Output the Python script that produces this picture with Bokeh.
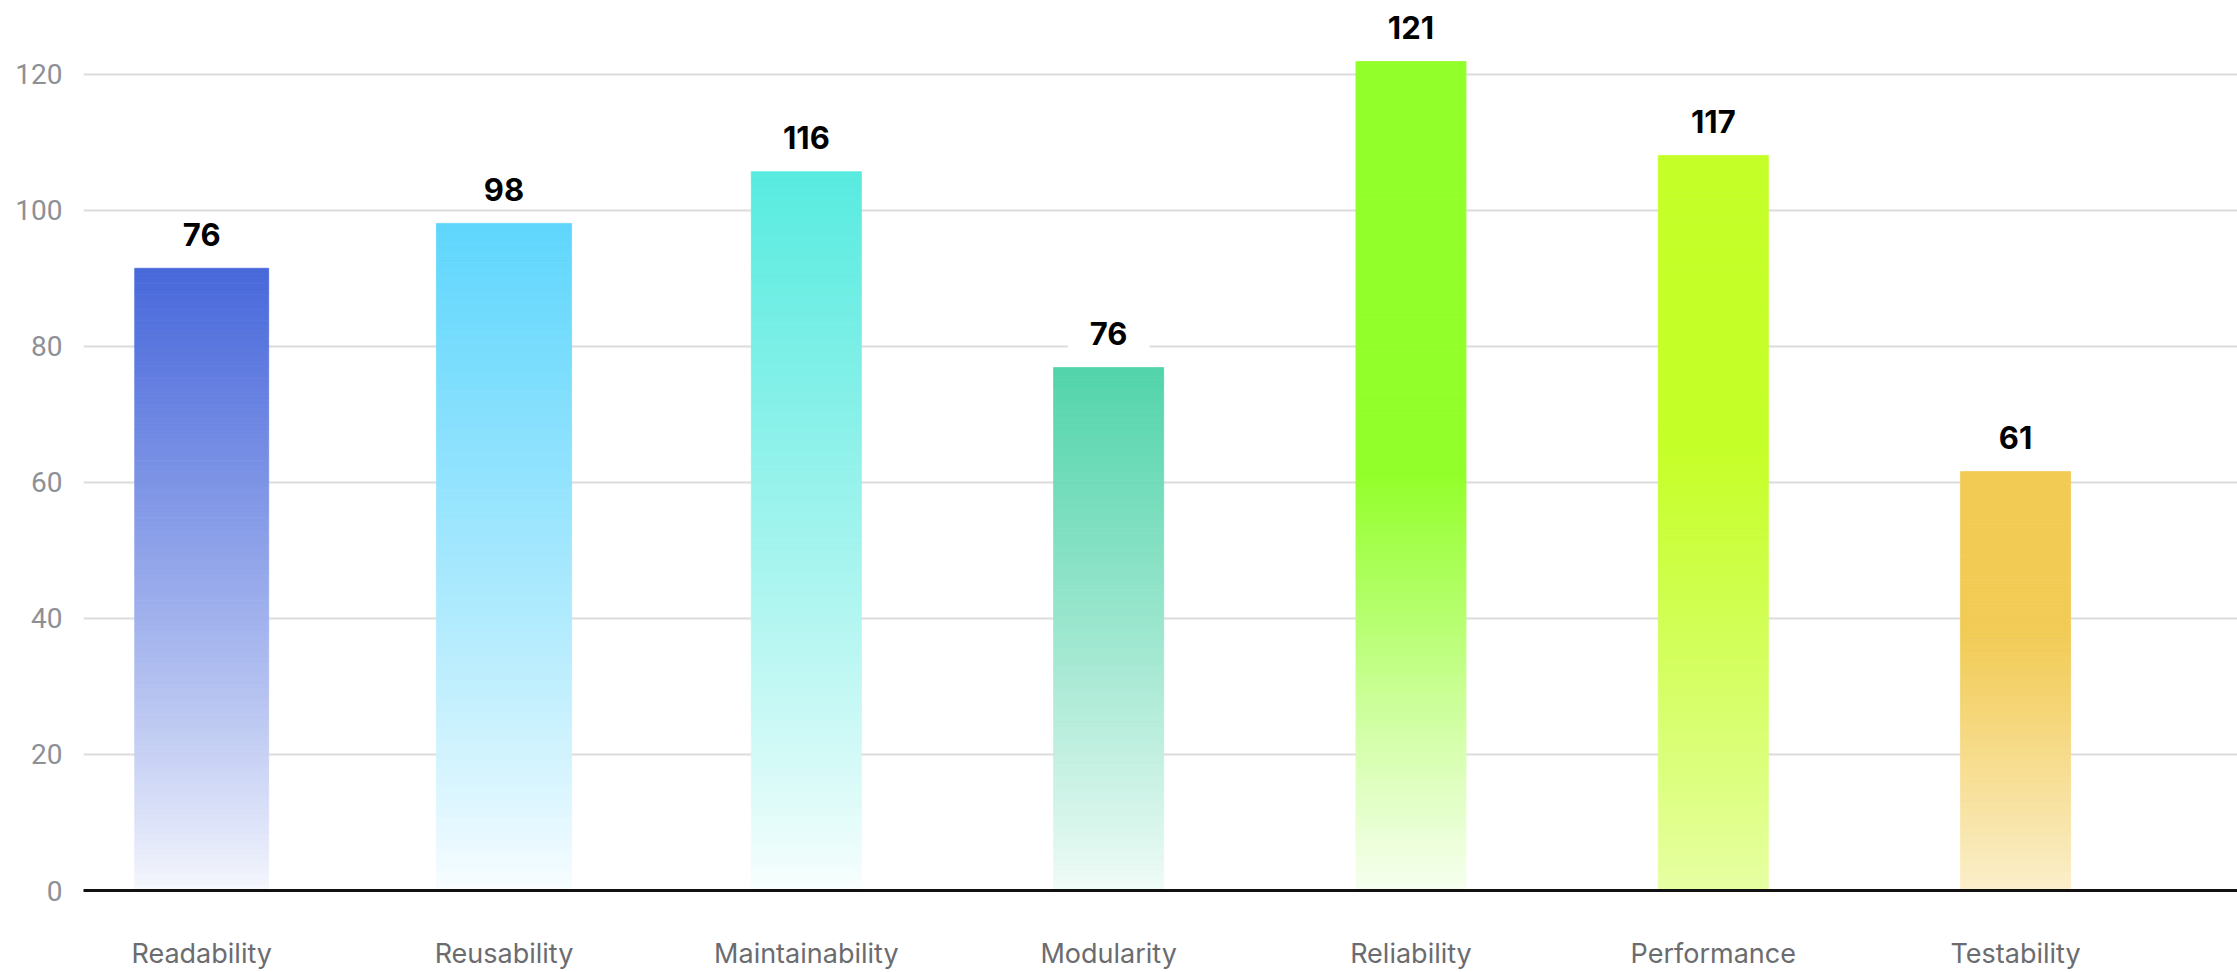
import numpy as np
from bokeh.plotting import figure
from bokeh.models import Range1d, FixedTicker, ColumnDataSource
from bokeh.core.properties import value
from bokeh.embed import file_html
from bokeh.resources import INLINE

# ---------------- data ----------------
categories = ["Readability", "Reusability", "Maintainability", "Modularity",
              "Reliability", "Performance", "Testability"]
bar_values = [91.5, 98.1, 105.7, 76.9, 121.9, 108.1, 61.6]
label_values = [76, 98, 116, 76, 121, 117, 61]
y_ticks = [0, 20, 40, 60, 80, 100, 120]

# ---------------- style ----------------
colors = ["#4868DB", "#5FD6FD", "#58EBE0", "#52D4AA", "#93FF2A", "#C5FF28", "#F2CB55"]
# gradient: (solid fraction from top, bottom alpha, curve power)
grad = [(1.0, 0.04, 0.85), (1.0, 0.03, 0.84), (1.0, 0.03, 0.85), (1.0, 0.08, 0.9),
        (0.5, 0.08, 1.05), (0.6, 0.42, 0.88), (0.62, 0.30, 0.93)]
bar_widths = [0.443, 0.447, 0.364, 0.364, 0.364, 0.364, 0.364]
N_SLICES = 120


def hex_to_rgb(h):
    h = h.lstrip("#")
    return tuple(int(h[i:i + 2], 16) for i in (0, 2, 4))


def blend(rgb, a):
    r, g, b = (int(round(255 * (1 - a) + c * a)) for c in rgb)
    return "#%02x%02x%02x" % (r, g, b)


idx = list(range(len(categories)))

p = figure(width=2237, height=972,
           x_range=Range1d(-0.391, 6.734), y_range=Range1d(0, 130.88),
           output_backend="svg", toolbar_location=None,
           min_border_left=83, min_border_right=0, min_border_top=0, min_border_bottom=82,
           background_fill_color="white", border_fill_color="white",
           outline_line_color=None)

# gradient bars built from slices of each bar's value
L, R, B, T, C = [], [], [], [], []
for i, v in enumerate(bar_values):
    rgb = hex_to_rgb(colors[i])
    s, a0, pw = grad[i]
    w = bar_widths[i]
    for k in range(N_SLICES):
        f = (k + 0.5) / N_SLICES
        if f >= 1 - (1 - s) and f >= s:
            a = 1.0
        else:
            a = a0 + (1 - a0) * (f / s) ** pw
        a = min(1.0, a)
        L.append(idx[i] - w / 2)
        R.append(idx[i] + w / 2)
        B.append(v * k / N_SLICES)
        T.append(v * (k + 1) / N_SLICES)
        C.append(blend(rgb, a))

src = ColumnDataSource(dict(left=L, right=R, bottom=B, top=T, color=C))
p.quad(left="left", right="right", bottom="bottom", top="top", source=src,
       fill_color="color", line_color="color", line_width=0.8)

# value labels
lsrc = ColumnDataSource(dict(x=idx, y=bar_values, text=[str(v) for v in label_values]))
p.text(x="x", y="y", text="text", source=lsrc, y_offset=-34,
       text_align="center", text_baseline="middle",
       text_font=value("Inter"), text_font_style="bold", text_font_size="31px",
       text_color="#000000",
       background_fill_color="white",
       padding=dict(left=22, right=22, top=4, bottom=4))

# axes
p.xaxis.ticker = FixedTicker(ticks=idx)
p.xaxis.major_label_overrides = {i: c for i, c in enumerate(categories)}
p.xaxis.major_tick_line_color = None
p.xaxis.minor_tick_line_color = None
p.xaxis.major_tick_out = 0
p.xaxis.axis_line_color = "#111111"
p.xaxis.axis_line_width = 3
p.xaxis.major_label_text_font = "Inter"
p.xaxis.major_label_text_font_size = "27px"
p.xaxis.major_label_text_color = "#6b6c70"
p.xaxis.major_label_standoff = 46

p.yaxis.ticker = FixedTicker(ticks=y_ticks)
p.yaxis.axis_line_color = None
p.yaxis.major_tick_line_color = None
p.yaxis.minor_tick_line_color = None
p.yaxis.major_tick_out = 0
p.yaxis.major_label_text_font = "Roboto"
p.yaxis.major_label_text_font_size = "28px"
p.yaxis.major_label_text_color = "#8d9096"
p.yaxis.major_label_standoff = 21

p.xgrid.visible = False
p.ygrid.ticker = FixedTicker(ticks=y_ticks)
p.ygrid.grid_line_color = "#dcdcdc"
p.ygrid.grid_line_width = 2

open("out.html", "w").write(file_html(p, INLINE))
